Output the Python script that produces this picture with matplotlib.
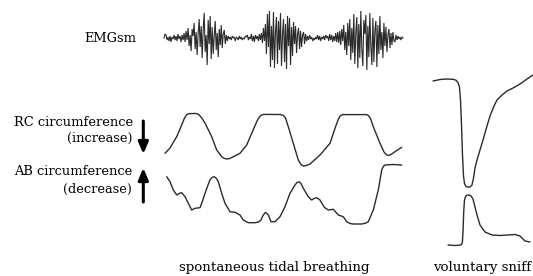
import numpy as np
import matplotlib
matplotlib.use("Agg")
import matplotlib.pyplot as plt

# ---------------- data ----------------
# smoothed EMG, amplitude samples (arbitrary units, + = up)
emg_quiet1 = [0, 4, 3, -2, 1, -3, 2, -4, 1, -1, 3, -2, 2, -3, 4, -1, 2, -4, 3, -2, 5]
emg_burst1 = [-4, 7, -2, 10, -8, 3, -13, 9, 2, 15, -11, 6, -17, 4, 19, -9, 12, -20, 8, 25,
              -14, 3, -27, 18, -6, 22, -21, 11, -16, 2, 17, -12, 5, -19, 9, -7, 13, -10, 4, 8,
              -6, 3, -3]
emg_quiet2 = [2, -1, 1, -2, 2, 0, 1, -3, 1, 0, -2, 2, -1, 1, -2, 0, -1, 2, 1, 3, -2, 1, -1, 4,
              -3, 2, -4, 3, -1, 2, -3, 4, -2, 5]
emg_burst2 = [-5, 10, -3, 14, -16, 24, -9, 27, -29, 12, -22, 26, -30, 6, 21, -26, 17, -12, 25, -28,
              3, 19, -24, 14, -31, 22, -8, 20, -27, 11, -18, 16, -6, 12, -15, 4, 10, -11, 7, -9,
              3, 6, -6, 4, -3, 2]
emg_quiet3 = [-2, 3, -1, 1, -3, 0, -2, 1, -1, 3, -2, 2, -3, 1, -1, 2, -2, 3, 0, 2, -3, 4, -2, 3,
              -4, 2, -3, 5, -4, 6, -5, 7]
emg_burst3 = [-7, 9, -3, 13, -12, 6, -17, 15, -8, 19, -22, 10, -15, 24, -26, 5, 21, -30, 14, -20,
              27, -11, -28, 18, 4, 23, -32, 12, -19, 25, -9, -27, 20, -24, 8, 17, -29, 13, -16, 22,
              -12, 6, -20, 15, -8, 11, -14, 3, 9, -10, 5, -7, 6, -3, -4]
emg_tail = [3, -2, 2, -1, 1, -2, 1, 0]

# rib cage circumference during tidal breathing (time, displacement on page)
rc_t = [165, 170, 176.7, 181.7, 184.5, 186.7, 189, 196, 198.3, 201, 205, 211.7, 216.7, 221.7,
        224, 226.7, 229.5, 233.3, 240, 246.7, 251.7, 256.7, 259, 261, 263.5, 280.5, 283.3, 285.5,
        288.3, 293.3, 298.3, 301, 303.3, 306, 310, 320, 330, 335, 338, 340, 342.5, 366, 368.3, 370.5,
        373.3, 380, 384, 386.7, 389, 391.7, 396, 401.7]
rc_v = [153.3, 148, 136.7, 125, 118, 114.6, 113.6, 113.5, 114.2, 117, 123, 136.7, 150, 156.7,
        158.3, 159, 158.6, 156.7, 153.3, 145, 133.3, 121.7, 117.5, 115.3, 114.4, 114.5, 115.3, 118,
        126.7, 143.3, 160, 164.5, 166, 165.6, 164, 155, 143.3, 128.3, 120, 116.2, 114.6, 114.6, 115.4, 118.5,
        126.7, 143.3, 152, 155, 155.3, 154, 151, 147.3]

# abdomen circumference during tidal breathing
ab_t = [166.7, 170, 173.3, 176.7, 179, 181.7, 185, 188.3, 191.7, 195, 200, 202.5, 205, 208, 210,
        212, 214.3, 216.5, 218.3, 221.7, 225, 230, 235, 240, 243.3, 248.3, 255, 258.5, 261, 263,
        265, 266.5, 268.3, 271, 275, 280, 285, 290, 295, 297, 299, 301, 303.3, 308.3, 311.7, 314,
        316.7, 320, 324.3, 328.3, 333.3, 338.3, 343.3, 346.7, 350, 353.3, 361.7, 365.5, 368.3,
        373.3, 378.3, 381.7, 383.3, 385, 393, 401.7]
ab_v = [176.7, 181.7, 190, 195, 193.5, 192.7, 196.7, 203.3, 210, 208.3, 207.7, 201, 193.3, 185, 180,
        177.5, 176.7, 178.5, 181.7, 193.3, 203.3, 211.7, 212.3, 215, 220, 222.7, 222.7, 222, 220, 215.5,
        212.7, 213, 215, 221.7, 221.7, 216.7, 206.7, 193.3, 185, 182.5, 181.7, 183.5, 188.3, 196.7, 200, 198.5,
        197.7, 200, 207.3, 210, 209.3, 215, 216.7, 221.7, 223.5, 224, 224, 223.2, 221.7,
        210, 190, 170, 166.5, 165, 164.5, 165]

# voluntary sniff traces
sn_rc_t = [433, 440, 447, 453, 456, 458, 459.5, 460.5, 461.5, 462.5, 463.5, 464.5, 466, 468, 470,
           472, 473.5, 475, 477, 480, 483, 487, 490, 494, 497, 502, 507, 513, 520, 527, 533]
sn_rc_v = [81, 79.5, 79, 79.3, 80.2, 82.5, 87, 100, 125, 155, 176, 183.5, 186.5, 187.2, 187,
           185, 178, 168, 160, 150, 140, 126, 116, 106, 100, 95, 91, 88, 84, 79, 75]
sn_ab_t = [448, 455, 461, 462.3, 463, 463.7, 464.5, 465.5, 467, 469, 471, 473, 475, 477, 480, 485,
           492, 500, 508, 515, 520, 525, 530]
sn_ab_v = [245, 245.5, 245, 243, 232, 212, 200, 196.5, 195.2, 195, 196, 199, 207, 215, 225, 232,
           235, 235.5, 235, 234.5, 236, 241, 242]

labels_left = ["EMGsm", "RC circumference", "(increase)", "AB circumference", "(decrease)"]
caption_tidal = "spontaneous tidal breathing"
caption_sniff = "voluntary sniff"

# ---------------- drawing ----------------
W, H = 533, 276
fig = plt.figure(figsize=(W / 100, H / 100), dpi=100)
ax = fig.add_axes([0, 0, 1, 1])
ax.set_xlim(0, W)
ax.set_ylim(H, 0)
ax.axis("off")

ink = "#2b2b2b"
serif = "DejaVu Serif"

emg = emg_quiet1 + emg_burst1 + emg_quiet2 + emg_burst2 + emg_quiet3 + emg_burst3 + emg_tail
emg_x = np.linspace(164, 403, len(emg))
ax.plot(emg_x, 38 - np.array(emg), color=ink, lw=0.8, solid_joinstyle="miter")

for t, v in [(rc_t, rc_v), (ab_t, ab_v), (sn_rc_t, sn_rc_v), (sn_ab_t, sn_ab_v)]:
    ax.plot(t, v, color=ink, lw=1.0, solid_joinstyle="round", solid_capstyle="round")

fs = 9.4
ax.text(136.5, 38.5, labels_left[0], ha="right", va="center", fontsize=fs, family=serif)
ax.text(133, 122.3, labels_left[1], ha="right", va="center", fontsize=fs, family=serif)
ax.text(132, 138.3, labels_left[2], ha="right", va="center", fontsize=fs, family=serif)
ax.text(132, 171.7, labels_left[3], ha="right", va="center", fontsize=fs, family=serif)
ax.text(132, 189.5, labels_left[4], ha="right", va="center", fontsize=fs, family=serif)

arrow = dict(arrowstyle="-|>,head_length=0.7,head_width=0.3", lw=2.2, color="black",
             shrinkA=0, shrinkB=0)
ax.annotate("", xy=(143.3, 154), xytext=(143.3, 121), arrowprops=arrow)
ax.annotate("", xy=(143.3, 168), xytext=(143.3, 202), arrowprops=arrow)

ax.text(274.5, 268, caption_tidal, ha="center", va="center", fontsize=9.6, family=serif)
ax.text(432.7, 268, caption_sniff, ha="left", va="center", fontsize=9.6, family=serif, clip_on=False)

fig.savefig("out.png", dpi=100, facecolor="white")
